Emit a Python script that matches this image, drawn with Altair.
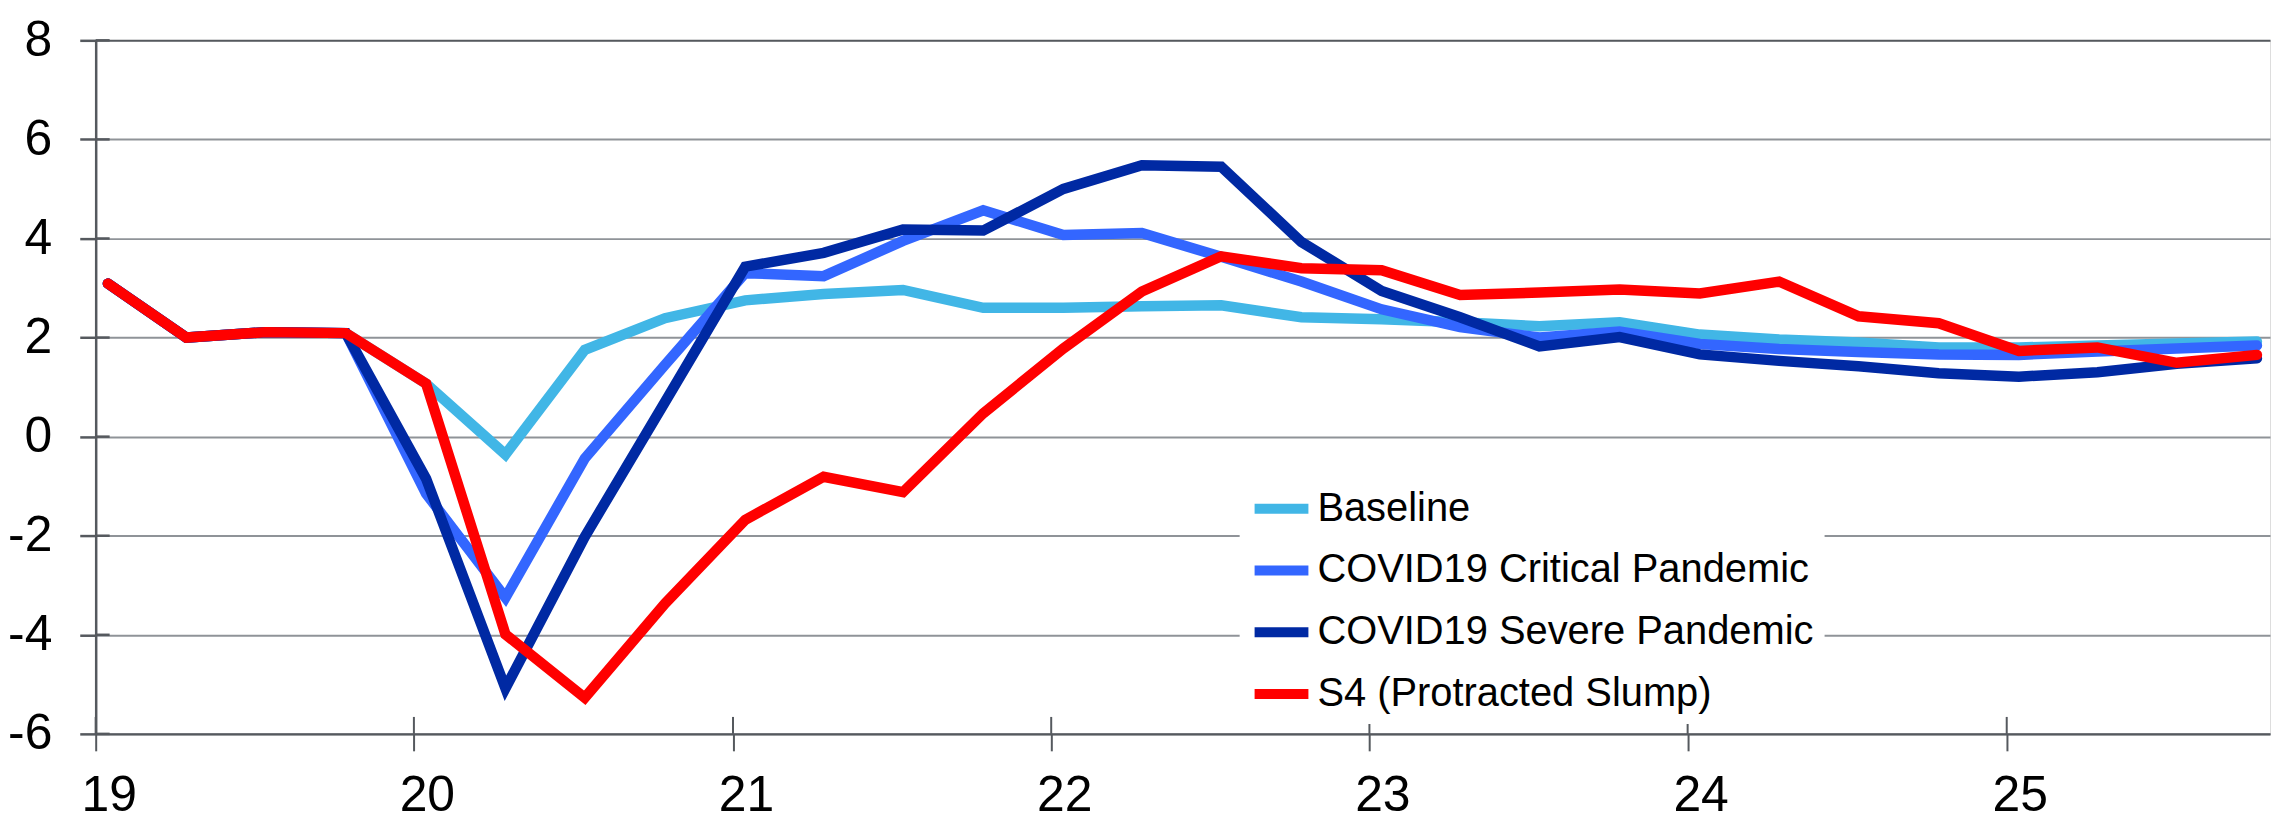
import altair as alt
import pandas as pd

# ---- data -----------------------------------------------------------------
years = [2019, 2020, 2021, 2022, 2023, 2024, 2025]
quarters = [f"{y}Q{q}" for y in years for q in range(1, 5)]

baseline = [3.09, 2.00, 2.11, 2.09, 1.07, -0.36, 1.75, 2.39, 2.75, 2.88, 2.96, 2.60, 2.60, 2.63,
            2.65, 2.41, 2.37, 2.31, 2.23, 2.31, 2.06, 1.96, 1.90, 1.80, 1.80, 1.84, 1.88, 1.92]
critical = [3.09, 2.00, 2.11, 2.09, -1.15, -3.25, -0.44, 1.45, 3.30, 3.24, 3.95, 4.57, 4.07, 4.11,
            3.63, 3.13, 2.57, 2.21, 2.00, 2.12, 1.87, 1.77, 1.71, 1.66, 1.65, 1.72, 1.78, 1.84]
severe = [3.09, 2.00, 2.11, 2.09, -0.85, -5.08, -2.02, 0.70, 3.43, 3.71, 4.18, 4.16, 5.00, 5.48,
          5.45, 3.93, 2.94, 2.41, 1.82, 2.01, 1.66, 1.53, 1.42, 1.28, 1.21, 1.30, 1.47, 1.58]
s4 = [3.09, 2.00, 2.11, 2.09, 1.07, -3.99, -5.27, -3.37, -1.68, -0.81, -1.12, 0.47, 1.78, 2.93,
      3.64, 3.40, 3.36, 2.86, 2.91, 2.97, 2.89, 3.13, 2.43, 2.29, 1.73, 1.80, 1.49, 1.65]

series_names = ["Baseline", "COVID19 Critical Pandemic", "COVID19 Severe Pandemic",
                "S4 (Protracted Slump)"]
series_colors = ["#41B6E6", "#3366FF", "#0029A3", "#FF0000"]
series_values = [baseline, critical, severe, s4]

y_ticks = [-6, -4, -2, 0, 2, 4, 6, 8]

rows = []
for name, vals in zip(series_names, series_values):
    for ql, v in zip(quarters, vals):
        yr, q = int(ql[:4]), int(ql[-1])
        rows.append({"series": name, "quarter": ql,
                     "date": f"{yr}-{3 * (q - 1) + 1:02d}-15", "value": v})
df = pd.DataFrame(rows)
year_df = pd.DataFrame({"date": [f"{y}-01-01" for y in years]})
ytick_df = pd.DataFrame({"v": y_ticks})

FONT = "Liberation Sans"
AXIS_DARK = "#55595e"
GRID = "#8f9398"
W, H = 2182, 696

x_scale = alt.Scale(type="utc",
                    domain=[alt.DateTime(year=2019, month=1, date=1, utc=True),
                            alt.DateTime(year=2025, month=10, date=30, utc=True)])
y_scale = alt.Scale(domain=[-6, 8], nice=False, zero=False)

x_axis = alt.Axis(values=[alt.DateTime(year=y, month=1, date=1, utc=True) for y in years],
                  labelExpr="utcFormat(datum.value, '%y')", title=None, grid=False,
                  domainColor=AXIS_DARK, domainWidth=2.5, tickColor=AXIS_DARK, tickWidth=2,
                  tickSize=17, labelFontSize=50, labelFont=FONT, labelColor="black",
                  labelPadding=20, labelOffset=13, labelAlign="center", labelFlush=False)
y_axis = alt.Axis(values=y_ticks, labelExpr="'' + datum.value", title=None, grid=True,
                  gridColor={"condition": {"test": "datum.value === 8", "value": AXIS_DARK},
                             "value": GRID},
                  gridWidth=2, domainColor=AXIS_DARK, domainWidth=2.5, tickColor=AXIS_DARK,
                  tickWidth=2.5, tickSize=16, labelFontSize=50, labelFont=FONT,
                  labelColor="black", labelPadding=28)

color = alt.Color("series:N",
                  scale=alt.Scale(domain=series_names, range=series_colors),
                  legend=alt.Legend(orient="none", legendX=1148, legendY=428, title=None,
                                    fillColor="white", padding=10, symbolType="stroke",
                                    symbolSize=2916, symbolStrokeWidth=10,
                                    labelFontSize=40, labelFont=FONT, labelColor="black",
                                    labelOffset=4, rowPadding=10, labelLimit=1000))

layers = []
for name in series_names:
    layers.append(
        alt.Chart(df).transform_filter(alt.datum.series == name)
        .mark_line(strokeWidth=10.5, strokeCap="round")
        .encode(x=alt.X("date:T", scale=x_scale, axis=x_axis),
                y=alt.Y("value:Q", scale=y_scale, axis=y_axis),
                color=color)
    )

# inner halves of the crossing tick marks
x_inner = alt.Chart(year_df).mark_rule(color=AXIS_DARK, strokeWidth=2).encode(
    x=alt.X("date:T", scale=x_scale), y=alt.value(H), y2=alt.value(H - 17))
y_inner = alt.Chart(ytick_df).mark_rule(color=AXIS_DARK, strokeWidth=2.5).encode(
    y=alt.Y("v:Q", scale=y_scale), x=alt.value(0), x2=alt.value(14))

chart = alt.layer(x_inner, y_inner, *layers).properties(
    width=W, height=H,
    autosize=alt.AutoSizeParams(type="none"),
    padding={"left": 88, "top": 31, "right": 4, "bottom": 88},
).configure_view(stroke="#b5b8bb", strokeWidth=1.5).configure(background="white")

chart.save("out.html", embed_options={"renderer": "svg", "actions": False})
